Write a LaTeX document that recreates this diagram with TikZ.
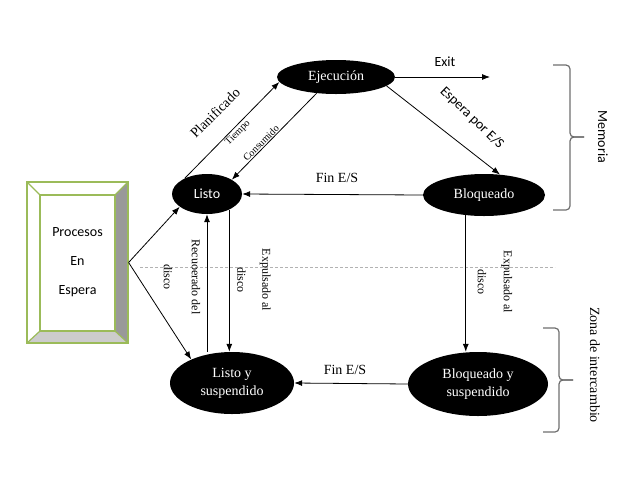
\documentclass[tikz,border=0pt]{standalone}
\usepackage{fontspec}
\setmainfont{Liberation Serif}
\newfontfamily\calibri{Carlito}
\usetikzlibrary{
  arrows.meta,
  calc,
  shapes.geometric,
}
\definecolor{officegreen}{RGB}{155, 187, 89}
\definecolor{bracegray}{RGB}{110, 110, 110}
\tikzstyle{state} = [
  ellipse,
  fill=black,
  text=white,
  inner sep=0pt,
  align=center,
  font=\fontsize{14}{18}\selectfont,
]
\tikzstyle{arrow} = [
  -{Latex[length=8pt,width=6pt]},
  line width=0.8pt,
  black,
]
\tikzstyle{txt} = [inner sep=0pt, align=center, font=\fontsize{14}{16}\selectfont]
\tikzstyle{vtxt} = [inner sep=0pt, align=center, rotate=-90]
\tikzstyle{sans} = [inner sep=0pt, font=\calibri\fontsize{14}{16}\selectfont]
\tikzstyle{bevel} = [officegreen, line width=1.2pt]
\tikzstyle{span} = [
  rounded corners=4pt,
  line width=1.2pt,
  bracegray,
]

\begin{document}
\begin{tikzpicture}[x=1pt, y=-1pt]
  \useasboundingbox (0,0) rectangle (640,480);

  \draw [gray!60, dash pattern=on 3pt off 2pt] (140,267) -- (555,267);

  % box of waiting processes
  \fill [gray!80] (128,182) -- (128,343) -- (115,331) -- (115,195) -- cycle;
  \fill [gray!40] (27,343) -- (128,343) -- (115,331) -- (40,331) -- cycle;
  \draw [bevel] (27,182) -- (40,195) (128,182) -- (115,195)
                (27,343) -- (40,331) (128,343) -- (115,331);
  \draw [bevel] (40,195) rectangle (115,331);
  \node [bevel, draw, minimum width=101pt, minimum height=161pt,
         text=black, align=center, font=\calibri\fontsize{14}{29}\selectfont]
        (espera) at (77.5,262.5) {Procesos\\En\\Espera};

  \node [state, minimum width=118pt, minimum height=34pt] (ejec) at (336,77) {Ejecución};
  \node [state, minimum width=70pt, minimum height=40pt,
         font=\calibri\fontsize{14}{16}\selectfont] (listo) at (207,194) {Listo};
  \node [state, minimum width=122pt, minimum height=42pt] (bloq) at (484,195) {Bloqueado};
  \node [state, minimum width=124pt, minimum height=62pt] (lys) at (232,383) {Listo y\\suspendido};
  \node [state, minimum width=140pt, minimum height=64pt] (bys) at (478,384) {Bloqueado y\\suspendido};
  \coordinate (exit) at (490,77);

  \draw [arrow] (espera.east) -- (listo.-155);
  \draw [arrow] (espera.east) -- (lys.150);
  \draw [arrow] (listo.145) -- (ejec.185);
  \draw [arrow] (ejec.-140) -- (listo.30);
  \draw [arrow] (ejec.east) -- (exit);
  \draw [arrow] (ejec.-10) -- (bloq.52);
  \draw [arrow] (bloq.west) -- (listo.east);
  \draw [arrow] (listo.-35) -- (listo.-35 |- lys.north);
  \draw [arrow] (listo.south |- lys.north) -- (listo.south);
  \draw [arrow] (bloq.-132) -- (bloq.-132 |- bys.north);
  \draw [arrow] (bys.west) -- (lys.east);

  \node [txt, rotate=45] (planif) at (215,113) {Planificado};
  \node [txt, rotate=45, font=\fontsize{10}{12}\selectfont] (tiempo) at (238,133) {Tiempo};
  \node [txt, rotate=45, font=\fontsize{10}{12}\selectfont] (consumido) at (261,143) {Consumido};
  \node [sans] (exitlbl) at (445,62) {Exit};
  \node [sans, rotate=-44] (espes) at (472,118) {Espera por E/S};
  \node [txt] (finesa) at (337,178) {Fin E/S};
  \node [txt] (finesb) at (345,370) {Fin E/S};
  \node [vtxt, font=\fontsize{12}{28}\selectfont] (recup) at (182,277) {Recuoerado del\\disco};
  \node [vtxt, font=\fontsize{12}{25}\selectfont] (expa) at (254,280) {Expulsado al\\disco};
  \node [vtxt, font=\fontsize{12}{26}\selectfont] (expb) at (495,282) {Expulsado al\\disco};

  % zones
  \draw [span] (553,65) -- (570,65) -- (570,137) -- (584,137);
  \draw [span] (584,137) -- (570,137) -- (570,210) -- (553,210);
  \draw [span] (543,328) -- (559,328) -- (559,380) -- (573,380);
  \draw [span] (573,380) -- (559,380) -- (559,432) -- (543,432);
  \node [sans, rotate=-90] (memoria) at (603,137) {Memoria};
  \node [txt, rotate=-90] (zona) at (595,365) {Zona de intercambio};
\end{tikzpicture}
\end{document}
